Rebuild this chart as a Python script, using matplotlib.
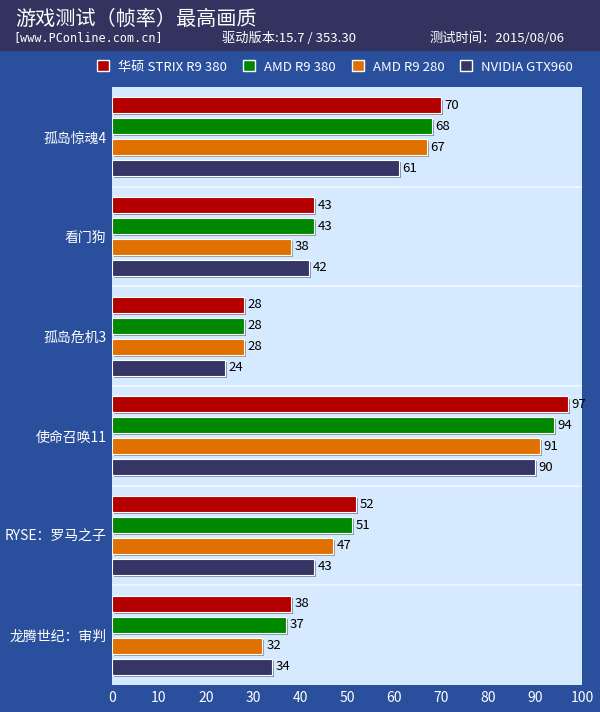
import matplotlib
matplotlib.use("Agg")
import matplotlib.pyplot as plt
import matplotlib.patheffects as pe

plt.rcParams["font.family"] = ["Noto Sans CJK SC"]

games = ["孤岛惊魂4", "看门狗", "孤岛危机3", "使命召唤11", "RYSE：罗马之子", "龙腾世纪：审判"]
series = ["华硕 STRIX R9 380", "AMD R9 380", "AMD R9 280", "NVIDIA GTX960"]
values = [
    [70, 43, 28, 97, 52, 38],
    [68, 43, 28, 94, 51, 37],
    [67, 38, 28, 91, 47, 32],
    [61, 42, 24, 90, 43, 34],
]
colors = ["#b40000", "#008800", "#e07000", "#353566"]
xticks = [0, 10, 20, 30, 40, 50, 60, 70, 80, 90, 100]

fig = plt.figure(figsize=(6, 7.12), dpi=100)
fig.patch.set_facecolor("#2a4f9c")
fig.add_artist(plt.Rectangle((0, 1 - 50 / 712), 1, 50 / 712, transform=fig.transFigure,
                             color="#33335f", zorder=0))
fig.text(0.025, 1 - 19 / 712, "游戏测试（帧率）最高画质", color="white", fontsize=14.5, va="center")
fig.text(0.022, 1 - 38 / 712, "[www.PConline.com.cn]", color="white", fontsize=8.5, va="center",
         family="DejaVu Sans Mono")
fig.text(0.37, 1 - 38 / 712, "驱动版本:15.7 / 353.30", color="white", fontsize=9.5, va="center")
fig.text(0.715, 1 - 38 / 712, "测试时间：2015/08/06", color="white", fontsize=9.5, va="center")

ax = fig.add_axes([112 / 600, 1 - 685 / 712, 470 / 600, (685 - 87) / 712])
ax.set_facecolor("#d6eaff")
n = len(games)
pitch, h = 0.21, 0.16
for s in range(len(series)):
    ys = [g + (s - 1.5) * pitch for g in range(n)]
    ax.barh(ys, values[s], height=h, color=colors[s], edgecolor="white", linewidth=0.8,
            path_effects=[pe.SimplePatchShadow(offset=(1.5, -1.5), alpha=0.4), pe.Normal()])
    for y, v in zip(ys, values[s]):
        ax.text(v + 0.8, y, str(v), va="center", ha="left", fontsize=9.5, color="black")
for g in range(n - 1):
    ax.axhline(g + 0.5, color="#f0f8ff", lw=1.2)
ax.set_ylim(n - 0.5, -0.5)
ax.set_xlim(0, 100)
ax.set_yticks(range(n))
ax.set_yticklabels(games, color="white", fontsize=10)
ax.set_xticks(xticks)
ax.set_xticklabels([str(t) for t in xticks], color="white", fontsize=10)
ax.tick_params(length=0, pad=4)
for sp in ax.spines.values():
    sp.set_visible(False)

handles = [plt.Rectangle((0, 0), 1, 1, facecolor=c, edgecolor="white") for c in colors]
fig.legend(handles, series, loc="center right", bbox_to_anchor=(0.975, 1 - 67 / 712), ncol=4,
           frameon=False, labelcolor="white", fontsize=9.5, handlelength=0.9, handleheight=0.9,
           columnspacing=1.2, handletextpad=0.7)
fig.savefig("out.png", dpi=100, facecolor=fig.get_facecolor())
